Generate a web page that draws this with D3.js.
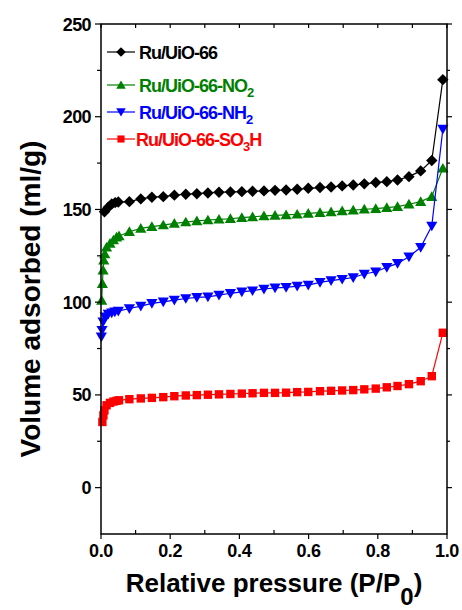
<!DOCTYPE html>
<html>
<head>
<meta charset="utf-8">
<script src="https://cdn.jsdelivr.net/npm/d3@7"></script>
<style>
  body { margin: 0; background: #fff; }
  text { font-family: "Liberation Sans", Arial, sans-serif; font-weight: bold; }
</style>
</head>
<body>
<svg id="chart"></svg>
<script>
// relative pressure points, shared above P/P0 ~ 0.08
var pressureMain = [0.082, 0.115, 0.147, 0.18, 0.212, 0.245, 0.277, 0.309, 0.341, 0.374,
    0.407, 0.438, 0.471, 0.503, 0.535, 0.567, 0.599, 0.633, 0.665, 0.697,
    0.729, 0.761, 0.794, 0.826, 0.857, 0.89, 0.924, 0.956, 0.988]

// low pressure points differ per sample
var pLowRu = [0.01, 0.021, 0.031, 0.041, 0.05]
var vLowRu = [148.8, 151.2, 153, 153.7, 154]
var vRu = [154.2, 155.7, 156.6, 156.9, 157.7, 158.2, 158.5, 158.9, 159.3, 159.4,
    159.6, 159.8, 160, 160.3, 160.5, 160.9, 161.4, 161.8, 162.1, 162.7,
    163.2, 163.8, 164.5, 165, 165.9, 167.7, 170.8, 176.4, 220]

var pLowNO2 = [0.002, 0.004, 0.006, 0.008, 0.011, 0.016, 0.026, 0.036, 0.045, 0.052]
var vLowNO2 = [101, 110, 117.3, 122.7, 126, 129.6, 131.7, 133.5, 135, 135.7]
var vNO2 = [138, 139.8, 140.7, 141.6, 142.5, 143.2, 143.8, 144.3, 144.7, 145,
    145.6, 146, 146.5, 146.8, 147.1, 147.4, 147.9, 148.3, 148.7, 149.2,
    149.6, 150.1, 150.4, 151, 151.5, 152.8, 154.2, 156.9, 172.2]

var pLowNH2 = [0.001, 0.003, 0.006, 0.012, 0.021, 0.031, 0.04, 0.05]
var vLowNH2 = [81.3, 84.9, 89.4, 92.1, 93.6, 94.3, 94.8, 95.2]
var vNH2 = [96.6, 97.9, 99.4, 100.2, 101.1, 102, 102.6, 102.9, 103.8, 104.8,
    105.6, 106.2, 107.1, 107.7, 108, 108.7, 109.2, 110.7, 111.6, 112.4,
    113.3, 115.2, 116.4, 118.8, 120.9, 124.5, 129.6, 141.1, 193.3]

var pLowSO3H = [0.004, 0.007, 0.01, 0.016, 0.026, 0.036, 0.045, 0.052]
var vLowSO3H = [35.4, 39, 41.7, 44.4, 45.7, 46.4, 46.8, 47.1]
var vSO3H = [47.7, 48.1, 48.4, 48.8, 49.3, 49.7, 49.9, 50.1, 50.3, 50.5,
    50.7, 50.9, 51.1, 51.1, 51.2, 51.5, 51.6, 52, 52.2, 52.4,
    52.6, 53, 53.4, 54.1, 54.8, 55.8, 57.4, 60.1, 83.5]

var xTicks = [0, 0.2, 0.4, 0.6, 0.8, 1.0]
var yTicks = [0, 50, 100, 150, 200, 250]

var width = 462, height = 610
var margin = {left: 101, right: 15, top: 24, bottom: 76}

var svg = d3.select("#chart")
    .attr("width", width)
    .attr("height", height)

var x = d3.scaleLinear().domain([0, 1]).range([margin.left, width - margin.right])
var y = d3.scaleLinear().domain([-25, 250]).range([height - margin.bottom, margin.top])

function zip(px, py) {
    return px.map((p, i) => [p, py[i]])
}

var series = [
    {name: "Ru/UiO-66", sub: "", tail: "", color: "#000000", shape: "diamond", pts: zip(pLowRu.concat(pressureMain), vLowRu.concat(vRu)), ly: 52},
    {name: "Ru/UiO-66-NO", sub: "2", tail: "", color: "#008000", shape: "up", pts: zip(pLowNO2.concat(pressureMain), vLowNO2.concat(vNO2)), ly: 85},
    {name: "Ru/UiO-66-NH", sub: "2", tail: "", color: "#0000ff", shape: "down", pts: zip(pLowNH2.concat(pressureMain), vLowNH2.concat(vNH2)), ly: 112},
    {name: "Ru/UiO-66-SO", sub: "3", tail: "H", color: "#ff0000", shape: "square", pts: zip(pLowSO3H.concat(pressureMain), vLowSO3H.concat(vSO3H)), ly: 139}
]

function marker(shape) {
    if (shape == "diamond") return "M0,-5.7L5.7,0L0,5.7L-5.7,0Z"
    if (shape == "up") return "M0,-5.4L5.6,4.3L-5.6,4.3Z"
    if (shape == "down") return "M0,5.4L5.6,-4.3L-5.6,-4.3Z"
    return "M-4.2,-4.2H4.2V4.2H-4.2Z"
}

var line = d3.line().x(d => x(d[0])).y(d => y(d[1]))

series.forEach(s => {
    var g = svg.append("g")
    g.append("path")
        .datum(s.pts)
        .attr("d", line)
        .attr("fill", "none")
        .attr("stroke", s.color)
        .attr("stroke-width", 1.2)
    g.selectAll("path.pt")
        .data(s.pts)
        .enter()
        .append("path")
            .attr("class", "pt")
            .attr("d", marker(s.shape))
            .attr("transform", d => "translate(" + x(d[0]) + "," + y(d[1]) + ")")
            .attr("fill", s.color)
})

// frame
var x0 = x(0), x1 = x(1), y0 = y(-25), y1 = y(250)
svg.append("rect")
    .attr("x", x0).attr("y", y1)
    .attr("width", x1 - x0).attr("height", y0 - y1)
    .attr("fill", "none")
    .attr("stroke", "#000")
    .attr("stroke-width", 1.5)

// ticks
var ticks = svg.append("g").attr("stroke", "#000").attr("stroke-width", 1.2)
d3.range(0, 251, 25).forEach(v => {
    var len = v % 50 == 0 ? 6 : 4
    ticks.append("line").attr("x1", x0 - len).attr("x2", x0).attr("y1", y(v)).attr("y2", y(v))
    ticks.append("line").attr("x1", x1).attr("x2", x1 + len - 1).attr("y1", y(v)).attr("y2", y(v))
})
d3.range(0, 11).forEach(i => {
    var v = i / 10
    if (i % 2 == 0) {
        ticks.append("line").attr("x1", x(v)).attr("x2", x(v)).attr("y1", y0).attr("y2", y0 + 5)
    } else {
        ticks.append("line").attr("x1", x(v)).attr("x2", x(v)).attr("y1", y0).attr("y2", y0 - 4)
    }
    ticks.append("line").attr("x1", x(v)).attr("x2", x(v)).attr("y1", y1).attr("y2", y1 + 4)
})

// tick labels
svg.selectAll(".ylab")
    .data(yTicks)
    .enter()
    .append("text")
        .attr("x", x0 - 10)
        .attr("y", d => y(d) + 6.5)
        .attr("text-anchor", "end")
        .attr("font-size", 18)
        .attr("letter-spacing", "-0.6px")
        .text(d => d)

svg.selectAll(".xlab")
    .data(xTicks)
    .enter()
    .append("text")
        .attr("x", d => x(d))
        .attr("y", 557)
        .attr("text-anchor", "middle")
        .attr("font-size", 18)
        .attr("letter-spacing", "-0.3px")
        .text(d => d.toFixed(1))

// axis titles
var xt = svg.append("text")
    .attr("x", (x0 + x1) / 2)
    .attr("y", 592)
    .attr("text-anchor", "middle")
    .attr("font-size", 26)
xt.append("tspan").text("Relative pressure (P/P")
xt.append("tspan").attr("dy", 13).attr("font-size", 24).text("0")
xt.append("tspan").attr("dy", -13).text(")")

svg.append("text")
    .attr("transform", "translate(40,299) rotate(-90)")
    .attr("text-anchor", "middle")
    .attr("font-size", 28)
    .text("Volume adsorbed (ml/g)")

// legend
series.forEach(s => {
    var lg = svg.append("g")
    lg.append("line")
        .attr("x1", 107).attr("x2", 135)
        .attr("y1", s.ly).attr("y2", s.ly)
        .attr("stroke", s.color)
        .attr("stroke-width", 1.2)
    lg.append("path")
        .attr("d", marker(s.shape))
        .attr("transform", "translate(121," + s.ly + ") scale(0.85)")
        .attr("fill", s.color)
    var t = lg.append("text")
        .attr("x", s.tail ? 136 : 139)
        .attr("y", s.ly + 6.5)
        .attr("font-size", 18)
        .attr("letter-spacing", "-1px")
        .attr("fill", s.color)
    t.append("tspan").text(s.name)
    if (s.sub) {
        t.append("tspan").attr("dy", 5).attr("font-size", 13).text(s.sub)
        if (s.tail) t.append("tspan").attr("dy", -5).text(s.tail)
    }
})
</script>
</body>
</html>
